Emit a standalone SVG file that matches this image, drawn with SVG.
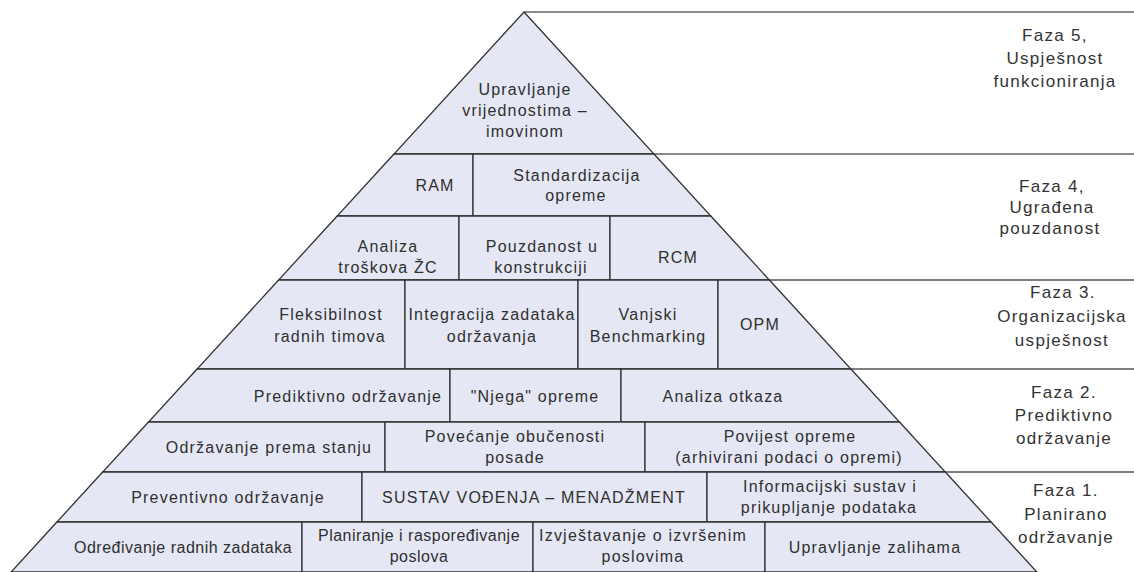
<svg xmlns="http://www.w3.org/2000/svg" width="1134" height="572" viewBox="0 0 1134 572">
<style>
.c{fill:#e5e8f4;stroke:#333;stroke-width:1.3;stroke-linejoin:miter}
.t{font-family:"Liberation Sans",Arial,sans-serif;font-size:16px;letter-spacing:1.2px;fill:#2f2f2f;text-anchor:middle}
.n{letter-spacing:0.5px}
.f{font-family:"Liberation Sans",Arial,sans-serif;font-size:17px;letter-spacing:1.3px;fill:#333;text-anchor:middle}
.ext{stroke:#555;stroke-width:1.5;fill:none}
.extg{stroke:#8a8a8a;stroke-width:2;fill:none}
</style>
<rect width="1134" height="572" fill="#fff"/>
<g id="lines">
<line class="extg" x1="524" y1="12" x2="1134" y2="12"/>
<line class="extg" x1="654" y1="154" x2="1134" y2="154"/>
<line class="ext" x1="769.4" y1="280" x2="1134" y2="280"/>
<line class="ext" x1="850.9" y1="369" x2="1134" y2="369"/>
<line class="ext" x1="945.3" y1="472" x2="1134" y2="472"/>
</g>
<g id="apex"><polygon class="c" points="524,12 654,154 394,154"/>
<text class="t" x="525" y="95">Upravljanje</text><text class="t" x="525" y="116">vrijednostima –</text><text class="t" x="525" y="137">imovinom</text></g>
<g id="ram"><polygon class="c" points="394,154 473,154 473,216 337.2,216"/><text class="t" x="435" y="191">RAM</text></g>
<g id="standardizacija"><polygon class="c" points="473,154 654,154 710.8,216 473,216"/><text class="t" x="577" y="181">Standardizacija</text><text class="t" x="576" y="201">opreme</text></g>
<g id="analiza-zc"><polygon class="c" points="337.2,216 459,216 459,280 278.6,280"/><text class="t" x="388" y="252">Analiza</text><text class="t" x="388" y="273">troškova ŽC</text></g>
<g id="pouzdanost"><polygon class="c" points="459,216 610,216 610,280 459,280"/><text class="t" x="542" y="252">Pouzdanost u</text><text class="t" x="541" y="273">konstrukciji</text></g>
<g id="rcm"><polygon class="c" points="610,216 710.8,216 769.4,280 610,280"/><text class="t" x="678" y="263">RCM</text></g>
<g id="fleksibilnost"><polygon class="c" points="278.6,280 405,280 405,369 197.1,369"/><text class="t" x="331" y="320">Fleksibilnost</text><text class="t" x="330" y="342">radnih timova</text></g>
<g id="integracija"><polygon class="c" points="405,280 578,280 578,369 405,369"/><text class="t" x="492" y="320">Integracija zadataka</text><text class="t" x="492" y="342">održavanja</text></g>
<g id="benchmarking"><polygon class="c" points="578,280 718,280 718,369 578,369"/><text class="t" x="648" y="320">Vanjski</text><text class="t" x="648" y="342">Benchmarking</text></g>
<g id="opm"><polygon class="c" points="718,280 769.4,280 850.9,369 718,369"/><text class="t" x="760" y="330">OPM</text></g>
<g id="prediktivno"><polygon class="c" points="197.1,369 450,369 450,422 148.5,422"/><text class="t" x="348" y="402">Prediktivno održavanje</text></g>
<g id="njega"><polygon class="c" points="450,369 621,369 621,422 450,422"/><text class="t" x="535" y="402">"Njega" opreme</text></g>
<g id="analiza-otkaza"><polygon class="c" points="621,369 850.9,369 899.5,422 621,422"/><text class="t" x="723" y="402">Analiza otkaza</text></g>
<g id="stanje"><polygon class="c" points="148.5,422 385,422 385,472 102.7,472"/><text class="t" x="269" y="453">Održavanje prema stanju</text></g>
<g id="obucenost"><polygon class="c" points="385,422 645,422 645,472 385,472"/><text class="t" x="515" y="442">Povećanje obučenosti</text><text class="t" x="515" y="463">posade</text></g>
<g id="povijest"><polygon class="c" points="645,422 899.5,422 945.3,472 645,472"/><text class="t" x="790" y="442">Povijest opreme</text><text class="t" x="789" y="463">(arhivirani podaci o opremi)</text></g>
<g id="preventivno"><polygon class="c" points="102.7,472 362,472 362,522 56.9,522"/><text class="t" x="228" y="503">Preventivno održavanje</text></g>
<g id="sustav"><polygon class="c" points="362,472 707,472 707,522 362,522"/><text class="t" x="534" y="503">SUSTAV VOĐENJA – MENADŽMENT</text></g>
<g id="informacijski"><polygon class="c" points="707,472 945.3,472 991.1,522 707,522"/><text class="t" x="830" y="492">Informacijski sustav i</text><text class="t" x="829" y="513">prikupljanje podataka</text></g>
<g id="odredivanje"><polygon class="c" points="56.9,522 302,522 302,572 11.2,572"/><text class="t n" x="183" y="553">Određivanje radnih zadataka</text></g>
<g id="planiranje"><polygon class="c" points="302,522 533,522 533,572 302,572"/><text class="t n" x="419" y="541">Planiranje i raspoređivanje</text><text class="t n" x="419" y="562">poslova</text></g>
<g id="izvjestavanje"><polygon class="c" points="533,522 765,522 765,572 533,572"/><text class="t" x="643" y="541">Izvještavanje o izvršenim</text><text class="t" x="643" y="562">poslovima</text></g>
<g id="zalihe"><polygon class="c" points="765,522 991.1,522 1036.8,572 765,572"/><text class="t" x="875" y="553">Upravljanje  zalihama</text></g>
<g id="faza5"><text class="f" x="1055" y="41">Faza 5,</text><text class="f" x="1055" y="64">Uspješnost</text><text class="f" x="1055" y="87">funkcioniranja</text></g>
<g id="faza4"><text class="f" x="1052" y="192">Faza 4,</text><text class="f" x="1052" y="213">Ugrađena</text><text class="f" x="1050" y="234">pouzdanost</text></g>
<g id="faza3"><text class="f" x="1063" y="298">Faza 3.</text><text class="f" x="1062" y="322">Organizacijska</text><text class="f" x="1062" y="346">uspješnost</text></g>
<g id="faza2"><text class="f" x="1064" y="398">Faza 2.</text><text class="f" x="1064" y="421">Prediktivno</text><text class="f" x="1064" y="444">održavanje</text></g>
<g id="faza1"><text class="f" x="1066" y="496">Faza 1.</text><text class="f" x="1066" y="520">Planirano</text><text class="f" x="1066" y="543">održavanje</text></g>
</svg>
